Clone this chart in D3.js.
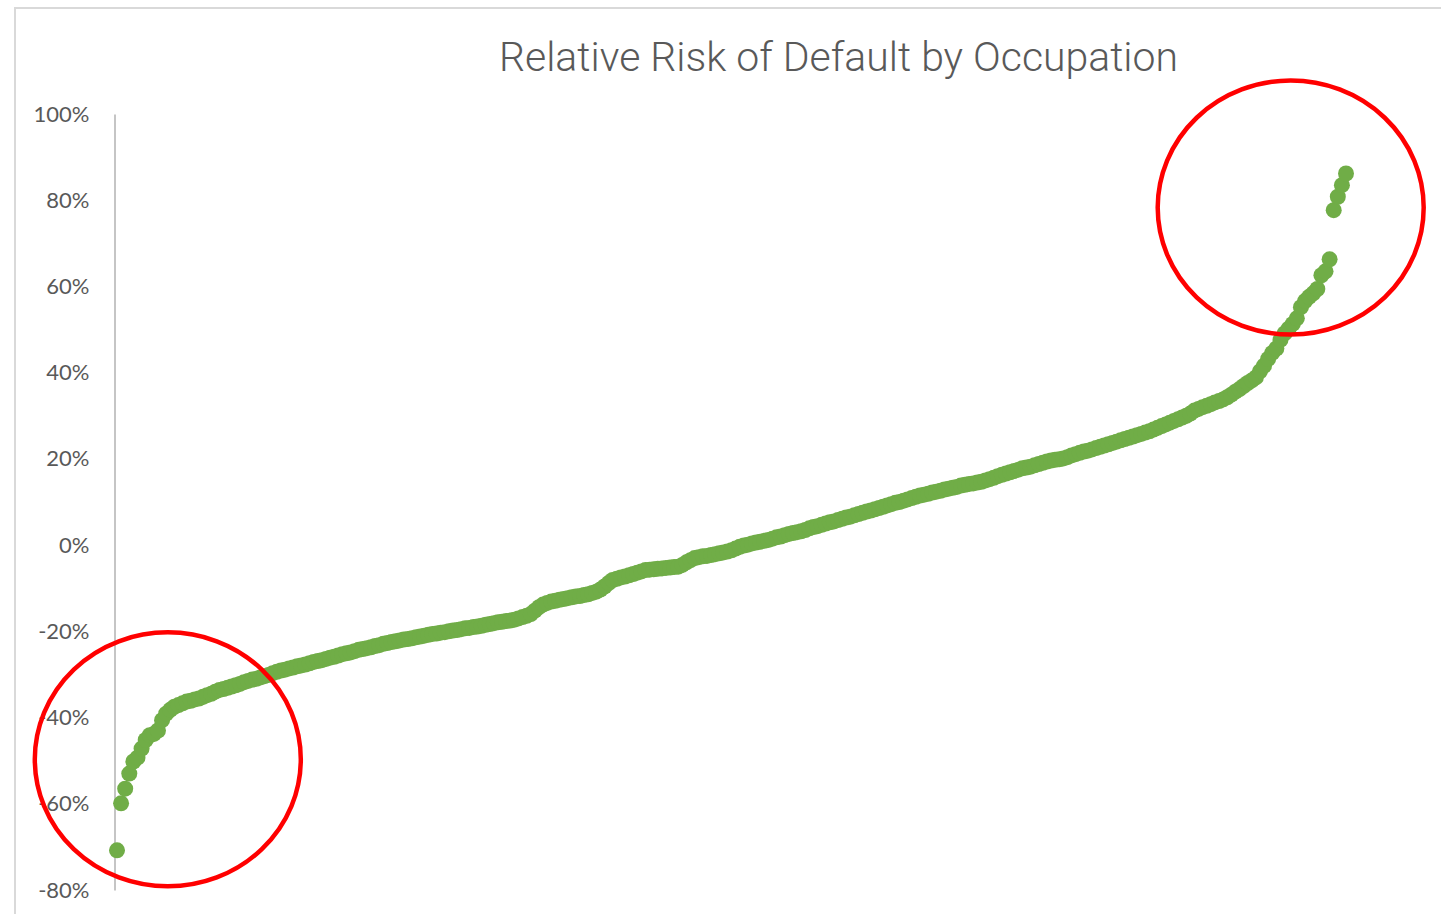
<!DOCTYPE html>
<html>
<head>
<meta charset="utf-8">
<script src="https://cdn.jsdelivr.net/npm/d3@7"></script>
<style>
  html, body { margin: 0; padding: 0; background: #fff; }
  svg { display: block; }
</style>
</head>
<body>
<div id="chart"></div>
<script>
const width = 1441;
const height = 914;

const title = "Relative Risk of Default by Occupation";

// relative risk per occupation, sorted ascending
const risk = [
  -70.8, -59.9, -56.5, -53.0, -50.2, -49.3, -47.2, -45.2, -44.1, -43.8,
  -43.0, -40.6, -39.1, -38.2, -37.5, -37.1, -36.7, -36.3, -36.1, -35.8,
  -35.6, -35.2, -34.8, -34.5, -34.0, -33.6, -33.4, -33.1, -32.8, -32.5,
  -32.2, -31.8, -31.5, -31.2, -31.0, -30.7, -30.4, -30.1, -29.7, -29.4,
  -29.1, -28.9, -28.6, -28.4, -28.1, -27.9, -27.7, -27.4, -27.1, -26.9,
  -26.7, -26.4, -26.1, -25.9, -25.6, -25.3, -25.1, -24.9, -24.6, -24.3,
  -24.1, -23.9, -23.7, -23.4, -23.2, -22.9, -22.7, -22.5, -22.3, -22.1,
  -21.9, -21.8, -21.6, -21.4, -21.2, -21.0, -20.8, -20.6, -20.5, -20.3,
  -20.2, -20.0, -19.8, -19.7, -19.5, -19.3, -19.2, -19.0, -18.9, -18.7,
  -18.5, -18.3, -18.1, -17.9, -17.8, -17.6, -17.5, -17.3, -17.0, -16.7,
  -16.4, -16.0, -15.2, -14.4, -13.8, -13.4, -13.1, -12.9, -12.7, -12.5,
  -12.3, -12.1, -11.9, -11.8, -11.6, -11.4, -11.1, -10.8, -10.3, -9.6,
  -8.8, -8.1, -7.8, -7.5, -7.3, -7.0, -6.7, -6.4, -6.1, -5.8,
  -5.7, -5.6, -5.5, -5.4, -5.3, -5.2, -5.1, -5.0, -4.6, -4.0,
  -3.5, -3.0, -2.8, -2.6, -2.5, -2.3, -2.1, -1.9, -1.7, -1.5,
  -1.2, -0.8, -0.4, -0.1, 0.1, 0.4, 0.6, 0.8, 1.0, 1.2,
  1.5, 1.8, 2.0, 2.3, 2.6, 2.8, 3.0, 3.2, 3.5, 3.9,
  4.2, 4.4, 4.7, 5.0, 5.3, 5.5, 5.8, 6.1, 6.4, 6.6,
  6.9, 7.2, 7.5, 7.8, 8.0, 8.3, 8.6, 8.9, 9.2, 9.5,
  9.8, 10.0, 10.3, 10.6, 10.9, 11.2, 11.5, 11.7, 11.9, 12.2,
  12.4, 12.6, 12.9, 13.1, 13.3, 13.5, 13.8, 14.0, 14.2, 14.3,
  14.5, 14.7, 15.0, 15.3, 15.6, 16.0, 16.3, 16.6, 16.9, 17.2,
  17.5, 17.8, 18.0, 18.2, 18.5, 18.8, 19.1, 19.4, 19.6, 19.8,
  19.9, 20.1, 20.4, 20.8, 21.1, 21.4, 21.7, 21.9, 22.2, 22.5,
  22.8, 23.1, 23.4, 23.7, 24.0, 24.3, 24.6, 24.9, 25.2, 25.5,
  25.8, 26.1, 26.4, 26.8, 27.2, 27.6, 28.0, 28.4, 28.8, 29.2,
  29.6, 30.0, 30.5, 31.2, 31.6, 32.0, 32.3, 32.7, 33.1, 33.4,
  33.8, 34.3, 34.9, 35.6, 36.2, 36.9, 37.6, 38.2, 38.9, 40.3,
  41.6, 43.2, 44.6, 45.6, 47.6, 49.1, 50.2, 51.3, 52.6, 55.2,
  56.6, 57.6, 58.4, 59.4, 62.6, 63.5, 66.3, 77.7, 80.8, 83.5,
  86.2
].map(v => v / 100);

const yTicks = [-0.8, -0.6, -0.4, -0.2, 0, 0.2, 0.4, 0.6, 0.8, 1.0];

// highlighted extremes (index along x, value)
const highlights = [
  {i: 12.4, v: -0.497},
  {i: 286.5, v: 0.783}
];

const margin = ({top: 114, right: 95, bottom: 24, left: 117});

const x = d3.scaleLinear()
  .domain([0, risk.length - 1])
  .range([margin.left, width - margin.right]);

const y = d3.scaleLinear()
  .domain([-0.8, 1.0])
  .range([height - margin.bottom, margin.top]);

const svg = d3.select("#chart")
  .append("svg")
  .attr("width", width)
  .attr("height", height)
  .attr("viewBox", [0, 0, width, height]);

// chart area border
svg.append("rect")
  .attr("x", 15)
  .attr("y", 8)
  .attr("width", width + 20)
  .attr("height", height + 20)
  .attr("fill", "none")
  .attr("stroke", "#d9d9d9")
  .attr("stroke-width", 2);

svg.append("text")
  .attr("x", 838.5)
  .attr("y", 71)
  .attr("text-anchor", "middle")
  .attr("font-family", "Roboto, 'Open Sans', sans-serif")
  .attr("font-weight", 300)
  .attr("font-size", 41)
  .attr("fill", "#595959")
  .attr("textLength", 679)
  .attr("lengthAdjust", "spacingAndGlyphs")
  .text(title);

const yAxis = g => g
  .attr("transform", `translate(${margin.left - 2.5},0)`)
  .call(d3.axisLeft(y)
    .tickValues(yTicks)
    .tickSize(0)
    .tickPadding(25)
    .tickFormat(d => Math.round(d * 100) + "%"))
  .call(g => g.select(".domain")
    .attr("stroke", "#bfbfbf")
    .attr("stroke-width", 1.8))
  .call(g => g.selectAll("text")
    .attr("fill", "#595959")
    .attr("font-family", "Lato, 'Open Sans', sans-serif")
    .attr("font-size", 22));

svg.append("g").call(yAxis);

svg.append("g")
  .attr("fill", "#70ad47")
  .selectAll("circle")
  .data(risk)
  .join("circle")
  .attr("cx", (d, i) => x(i))
  .attr("cy", d => y(d))
  .attr("r", 8);

svg.append("g")
  .attr("fill", "none")
  .attr("stroke", "#ff0000")
  .attr("stroke-width", 4.5)
  .selectAll("ellipse")
  .data(highlights)
  .join("ellipse")
  .attr("cx", d => x(d.i))
  .attr("cy", d => y(d.v))
  .attr("rx", 133)
  .attr("ry", 127);
</script>
</body>
</html>
